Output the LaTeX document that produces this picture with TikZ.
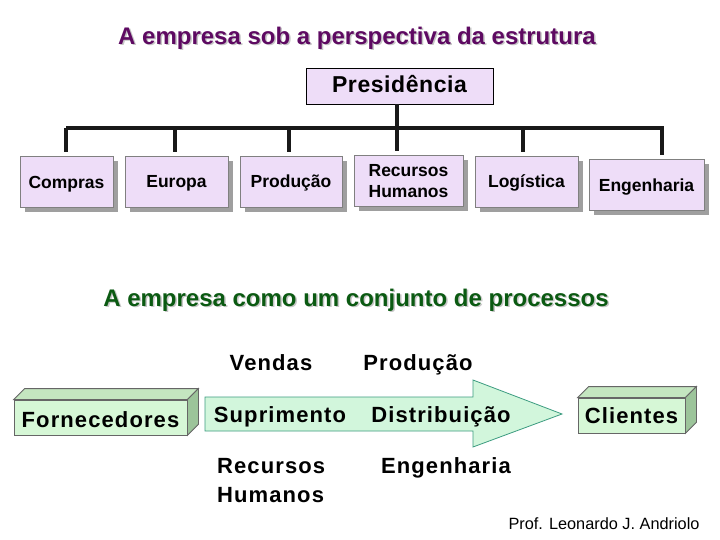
\documentclass[tikz,border=0pt]{standalone}
\usepackage{fontspec}
\setmainfont{Liberation Sans}
\newfontfamily\procfont[LetterSpace=5]{Liberation Sans}
\newfontfamily\presfont[LetterSpace=2.5]{Liberation Sans}
\usetikzlibrary{shadows}
\definecolor{lavbox}{HTML}{EEDDF8}
\definecolor{mintbox}{HTML}{D6F7D6}
\definecolor{minttop}{HTML}{C4E6C0}
\definecolor{mintside}{HTML}{9CC49A}
\definecolor{arrowfill}{HTML}{D2F6DC}
\definecolor{arrowline}{HTML}{3C9C80}
\definecolor{titlepurple}{HTML}{5E0A62}
\definecolor{titlegreen}{HTML}{0B5A12}
\begin{document}
\begin{tikzpicture}[x=1pt, y=-1pt,
	orgbox/.style={draw=gray, fill=lavbox, line width=0.8pt, inner sep=0pt, align=center,
		minimum height=51pt, font=\fontsize{17.5}{21.7}\selectfont\bfseries,
		drop shadow={shadow xshift=5pt, shadow yshift=-5pt, fill=gray!75, opacity=1}},
	oneline/.style={text height=13.5pt, text depth=0.5pt},
	orgline/.style={line width=3.5pt, draw=black!90},
	bigtitle/.style={font=\fontsize{24}{28}\selectfont\bfseries},
	proc/.style={font=\procfont\fontsize{22}{29}\selectfont\bfseries, inner sep=0pt, anchor=base},
	cube/.style={draw=black!60, fill=mintbox, line width=0.8pt, inner sep=0pt, minimum height=35pt,
		font=\procfont\fontsize{22}{29}\selectfont\bfseries, text depth=0pt}]
	\useasboundingbox[fill=white] (0,0) rectangle (720,540);
	% titles
	\node[bigtitle, text=gray!45] at (358.5,39.5) {A empresa sob a perspectiva da estrutura};
	\node[bigtitle, text=titlepurple] (title1) at (357,38) {A empresa sob a perspectiva da estrutura};
	\node[bigtitle, text=gray!45] at (357.5,301.5) {A empresa como um conjunto de processos};
	\node[bigtitle, text=titlegreen] (title2) at (356,300) {A empresa como um conjunto de processos};
	% organograma
	\node[draw=black, fill=lavbox, line width=0.8pt, minimum width=187pt, minimum height=36pt, inner sep=0pt,
		text height=14pt, text depth=0pt, font=\presfont\fontsize{23}{28}\selectfont\bfseries] (pres) at (399.5,86) {Presidência};
	\node[orgbox, oneline, minimum width=93pt] (comp) at (66.5,182) {Compras};
	\node[orgbox, oneline, minimum width=103pt] (eur) at (176.5,181.5) {Europa};
	\node[orgbox, oneline, minimum width=102pt] (prod) at (291,181.5) {Produção};
	\node[orgbox, minimum width=109pt] (rh) at (408.5,181) {Recursos\\Humanos};
	\node[orgbox, oneline, minimum width=103pt] (log) at (526.5,181.5) {Logística};
	\node[orgbox, oneline, minimum width=115pt] (eng) at (646.5,185) {Engenharia};
	\coordinate (barL) at (66,128);
	\coordinate (barR) at (662,128);
	\draw[orgline] (barL) -- (barR);
	\draw[orgline] ([xshift=-2.5pt]pres.south) -- ([xshift=-11.5pt, yshift=4pt]rh.north);
	\foreach \b/\dx in {comp/-0.5, eur/-1.5, prod/-2, log/-3.5, eng/15.5}
		\draw[orgline] (barL) -| ([xshift=\dx pt, yshift=4pt]\b.north);
	% processos
	\filldraw[fill=arrowfill, draw=arrowline, line width=0.8pt]
		(205,397) -- (473,397) -- (473,380) -- (562,414) -- (473,447) -- (473,431) -- (205,431) -- cycle;
	\node[proc] (vend) at (271,370) {Vendas};
	\node[proc] (prod2) at (418,370) {Produção};
	\node[proc] (supr) at (280,422) {Suprimento};
	\node[proc] (dist) at (441,422) {Distribuição};
	\node[proc, anchor=base west, align=left] (rh2) at (217,502) {Recursos\\Humanos};
	\node[proc] (eng2) at (446,473) {Engenharia};
	% caixas 3D
	\node[cube, minimum width=173pt, text height=19pt] (forn) at (100.5,417.5) {Fornecedores};
	\node[cube, minimum width=107pt, text height=15pt] (cli) at (631.5,415.5) {Clientes};
	\foreach \c in {forn, cli} {
		\filldraw[fill=minttop, draw=black!60, line width=0.8pt]
			(\c.north west) -- ++(11,-11) -- ([shift={(11,-11)}]\c.north east) -- (\c.north east) -- cycle;
		\filldraw[fill=mintside, draw=black!60, line width=0.8pt]
			(\c.north east) -- ++(11,-11) -- ([shift={(11,-11)}]\c.south east) -- (\c.south east) -- cycle;
	}
	% autor
	\node[font=\fontsize{16.3}{18}\selectfont, anchor=base east] (autor) at (703,529) {Prof. Leonardo J. Andriolo};
\end{tikzpicture}
\end{document}
